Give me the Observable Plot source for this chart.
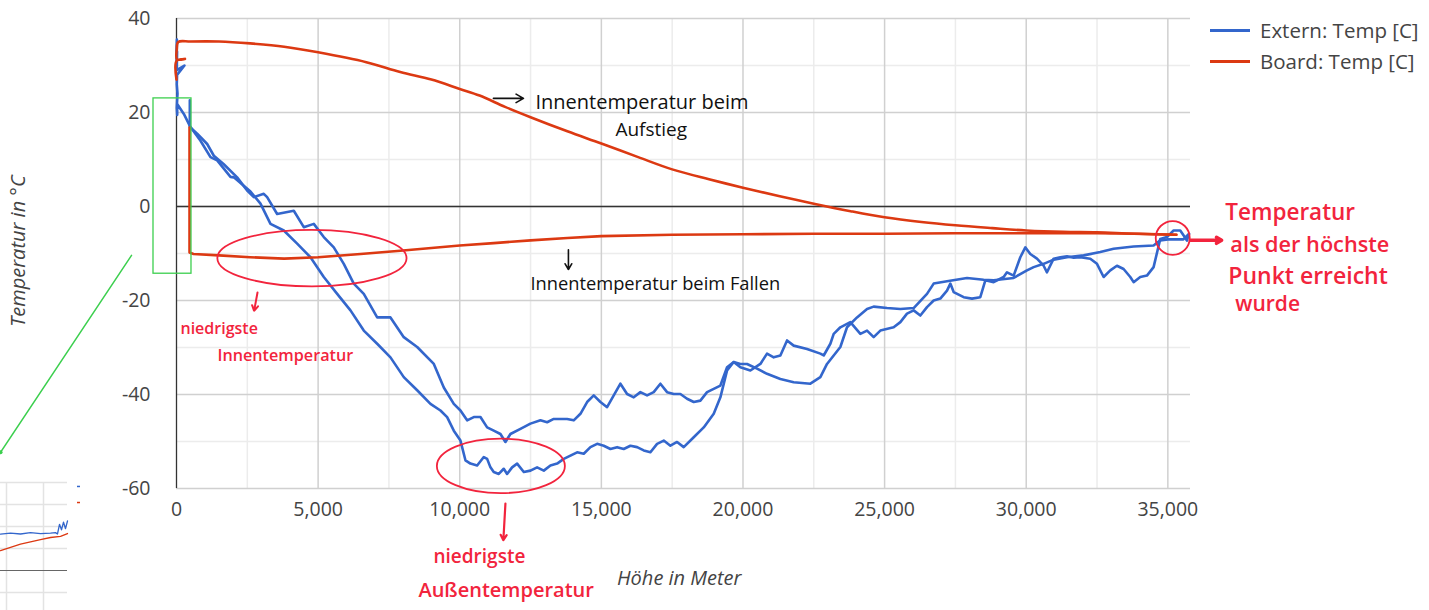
<!DOCTYPE html>
<html><head><meta charset="utf-8">
<script src="https://cdn.jsdelivr.net/npm/d3@7"></script>
<script src="https://cdn.jsdelivr.net/npm/@observablehq/plot@0.6"></script>
<style>
body{margin:0;background:#fff;font-family:"Open Sans",sans-serif;}
#wrap{position:relative;width:1429px;height:610px;overflow:hidden;background:#fff}
#wrap svg{position:absolute;left:0;top:0}
.leg{position:absolute;left:1210px;font-size:20.5px;line-height:28px;color:#444;display:flex;align-items:center;white-space:nowrap}
.leg span.sw{display:inline-block;width:40px;height:3px;margin-right:10px}
.ttl{position:absolute;font-size:20px;font-style:italic;color:#444;white-space:nowrap;line-height:26px}
</style></head><body><div id="wrap"></div>
<script>
// ---------- data ----------
const xTicks = [0,5000,10000,15000,20000,25000,30000,35000];
const xMinor = [2500,7500,12500,17500,22500,27500,32500];
const yTicks = [-60,-40,-20,0,20,40];
const yMinor = [-50,-30,-10,10,30];
const seriesNames = ["Extern: Temp [C]","Board: Temp [C]"];
const seriesColors = ["#3366cc","#dc3912"];

// Extern temperature, ascent (altitude m, temp C)
const externAscent = [
 [0,33],[15,35.5],[5,31],[20,33],[10,29],[280,30],[20,28],[10,26],[35,24],[10,21],[25,19.5],[24,21.8],
 [259,19.7],[494,16.9],[847,14],[1200,10.5],[1436,9.8],[1906,6.3],[2024,6.2],[2612,3.2],[2965,0.6],
 [3318,-3.7],[3788,-5.1],[4260,-7.9],[4730,-10.8],[5200,-15],[5673,-18.6],[6142,-22.1],[6612,-26.4],
 [7085,-29.2],[7554,-32.1],[8024,-36.3],[8497,-39.1],[8966,-42],[9319,-43.4],[9555,-44.8],[9790,-47.7],
 [10025,-49.8],[10201,-54],[10378,-54.7],[10614,-55.1],[10849,-53.3],[10967,-53.7],[11084,-55.5],
 [11200,-56.5],[11378,-56.9],[11554,-55.8],[11672,-56.9],[11849,-55.5],[12026,-54.7],[12261,-56.5],
 [12496,-56.2],[12731,-55.5],[12967,-56.2],[13202,-55.1],[13438,-54.7],[13673,-53.7],[13908,-53],
 [14144,-52.3],[14378,-52.6],[14614,-51.2],[14850,-50.5],[15085,-50.9],[15320,-51.6],[15556,-51.2],
 [15790,-51.6],[16026,-50.9],[16261,-51.2],[16496,-51.9],[16732,-52.3],[16967,-50.5],[17202,-49.8],
 [17438,-50.9],[17673,-50.1],[17908,-51.2],[18261,-49.1],[18614,-47],[18967,-44.1],[19202,-40.6],
 [19438,-34.9],[19673,-33.1],[19908,-34.2],[20261,-34.9],[20614,-33.5],[20849,-31.3],[21085,-32.1],
 [21320,-31.7],[21556,-28.5],[21790,-29.6],[22262,-30.3],[22732,-31.3],[22850,-31.7],[23085,-29.2],
 [23203,-27.1],[23438,-25.7],[23791,-24.6],[24144,-27.1],[24380,-26.4],[24614,-27.8],[24850,-26.4],
 [25320,-25.7],[25556,-24.6],[25791,-22.8],[26026,-22.1],[26262,-23.2],[26497,-21.4],[26732,-20],
 [26967,-19.6],[27203,-17.9],[27321,-16.4],[27438,-18.2],[27791,-19.3],[28085,-19.6],[28379,-19.3],
 [28556,-15.7],[28850,-16.1],[29203,-15],[29321,-14],[29556,-14.7],[29791,-10.8],[29968,-8.7],
 [30144,-10.1],[30380,-11.1],[30615,-12.6],[30733,-14],[30968,-11.1],[31203,-10.8],[31439,-10.6],
 [31674,-10.9],[31909,-10.8],[32262,-11.1],[32498,-12.2],[32733,-15],[32968,-13.6],[33203,-12.6],
 [33438,-13.3],[33674,-15],[33791,-16.1],[34026,-15],[34262,-14.7],[34497,-12.9],[34733,-6.9],
 [34968,-6.5],[35203,-5.1],[35438,-5.1],[35673,-7.2]
];
// Extern temperature, descent
const externDescent = [
 [35673,-7.2],[35750,-5.8],[35550,-7.0],[35000,-7.0],[34733,-7.2],[34497,-8.3],[33791,-8.5],[33085,-9],
 [32615,-9.7],[32027,-10.4],[31439,-10.8],[30968,-11.3],[30615,-12.2],[30262,-12.9],[30027,-13.6],
 [29556,-15.2],[28850,-15.7],[28497,-15.6],[27909,-15.2],[27203,-15.9],[26732,-16.4],[26497,-18.6],
 [26026,-21.6],[25556,-21.8],[25085,-21.6],[24614,-21.3],[24380,-21.8],[24026,-23.6],[23673,-25.7],
 [23438,-29.9],[22967,-33.5],[22732,-36.3],[22379,-37.7],[21790,-37.4],[21320,-36.7],[20849,-35.6],
 [20496,-34.5],[20143,-33.5],[19908,-33.5],[19673,-33.1],[19438,-34.2],[19202,-38.1],[18967,-38.8],
 [18732,-39.5],[18496,-41.3],[18261,-41.6],[18026,-40.9],[17790,-39.9],[17555,-39.9],[17320,-39.5],
 [17084,-37.7],[16848,-39.5],[16614,-40.2],[16378,-39.5],[16143,-40.6],[15908,-39.9],[15673,-37.7],
 [15437,-40.2],[15202,-42.7],[14967,-41.6],[14731,-40.2],[14497,-41.6],[14261,-44.1],[14025,-45.5],
 [13790,-45.2],[13320,-45.2],[13085,-45.9],[12849,-45.5],[12496,-46.2],[12143,-47.3],[11790,-48.4],
 [11613,-50.1],[11437,-48.4],[11200,-47.7],[10967,-47],[10731,-44.8],[10496,-44.8],[10261,-45.5],
 [10025,-43.4],[9790,-42],[9437,-38.5],[9085,-33.5],[8497,-29.9],[8024,-27.8],[7554,-23.6],[7085,-23.6],
 [6612,-18.6],[6259,-16.4],[5906,-12.2],[5553,-8.7],[5200,-6.5],[4847,-3.7],[4494,-4.4],[4141,-0.9],
 [3553,-1.6],[3200,2],[3082,2.7],[2730,2],[2494,3.4],[2141,6.2],[1670,9],[1318,10.8],[1083,13.3],
 [730,15.5],[470,16.9],[470,22.6]
];
// Board temperature, ascent
const boardAscent = [
 [0,27],[5,31],[300,31.4],[20,31.3],[10,33.5],[60,35],[500,35.1],[1500,35.1],[2600,34.7],[3800,34],
 [5000,32.8],[6700,30.7],[7900,28.6],[9000,27],[10000,25],[10700,23.6],[11600,21.2],[12500,19],
 [13800,16],[15000,13.4],[16300,10.5],[17500,7.9],[18800,5.8],[20000,4],[21300,2.2],[22500,0.6],
 [23800,-1],[25000,-2.3],[26300,-3.3],[27500,-4],[28800,-4.6],[30000,-5.1],[31300,-5.4],[32500,-5.5],
 [33800,-5.8],[35300,-6.0]
];
// Board temperature, descent
const boardDescent = [
 [35300,-6],[34000,-5.8],[32500,-5.7],[30000,-5.7],[27500,-5.7],[25000,-5.8],[22500,-5.8],[20000,-5.9],
 [17500,-6],[15000,-6.3],[13800,-6.7],[12500,-7.2],[11200,-7.8],[10000,-8.3],[8900,-8.9],[7900,-9.4],
 [6500,-10.1],[5000,-10.8],[3800,-11.1],[2600,-10.8],[1500,-10.4],[600,-10.1],[460,-9.8],[460,5],[460,16.8]
];

// handwritten annotations (altitude m, temp C)
const blackNotes = [
 {x:12672,y:22.1,text:"Innentemperatur beim",size:20},
 {x:15496,y:16.2,text:"Aufstieg",size:19},
 {x:12496,y:-16.6,text:"Innentemperatur beim Fallen",size:18.3}
];
const redNotes = [
 {x:141,y:-26,text:"niedrigste",size:16},
 {x:1447,y:-31.7,text:"Innentemperatur",size:16.2},
 {x:9072,y:-74.5,text:"niedrigste",size:19},
 {x:8542,y:-81.7,text:"Außentemperatur",size:20},
 {x:37028,y:-1.3,text:"Temperatur",size:22.5},
 {x:37205,y:-8.3,text:"als der höchste",size:21.7},
 {x:37134,y:-14.9,text:"Punkt erreicht",size:23},
 {x:37381,y:-20.9,text:"wurde",size:21}
];
const blackArrows = [
 {x1:11190,y1:23,x2:12250,y2:23},
 {x1:13837,y1:-9.2,x2:13837,y2:-13.4}
];
const redArrows = [
 {x1:2860,y1:-18.3,x2:2740,y2:-22.2,w:2},
 {x1:11613,y1:-63.2,x2:11540,y2:-71,w:2.2},
 {x1:35800,y1:-7.2,x2:36900,y2:-7.2,w:3.5}
];
const redEllipses = [
 {cx:4800,cy:-11.1,rx:3340,ry:6},
 {cx:11470,cy:-55.3,rx:2260,ry:5.8},
 {cx:35190,cy:-6.8,rx:600,ry:3.6}
];
const greenBox = [{x1:-812,x2:529,y1:23,y2:-14.3}];
const greenLine = [[-1588,-10.4],[-6212,-52.3]];

// inset fragment (bottom-left screenshot piece)
const insetBlue = [[0,2.65],[10,2.7],[20,2.66],[30,2.72],[40,2.68],[50,2.7],[55,2.72],[57,2.66],[59,3.1],[61,2.85],[63,3.2],[65,2.9],[67,3.25]];
const insetRed = [[0,1.9],[10,2.05],[20,2.2],[30,2.3],[40,2.4],[50,2.5],[60,2.55],[67,2.68]];
const insetGridX = [6,43];
const insetGridY = [0,2,3,4,5];

// ---------- chart ----------
const wrap = document.getElementById("wrap");
const plot = Plot.plot({
  width:1429, height:610,
  marginLeft:176, marginRight:239, marginTop:18, marginBottom:122,
  style:{fontFamily:"'Open Sans', sans-serif", fontSize:"19.5px", color:"#444", background:"transparent", overflow:"visible"},
  x:{domain:[0,35800], ticks:xTicks, tickFormat:d=>d3.format(",")(d), tickSize:0, tickPadding:14, label:null},
  y:{domain:[-60,40], ticks:yTicks, tickFormat:d=>String(d), tickSize:0, tickPadding:26, label:null},
  marks:[
    Plot.ruleX(xMinor,{stroke:"#ececec",strokeWidth:1.5}),
    Plot.ruleY(yMinor,{stroke:"#ececec",strokeWidth:1.5}),
    Plot.ruleX(xTicks.slice(1),{stroke:"#d0d0d0",strokeWidth:1.5}),
    Plot.ruleY(yTicks,{stroke:"#d0d0d0",strokeWidth:1.5}),
    Plot.ruleY([0],{stroke:"#333",strokeWidth:1.3}),
    Plot.ruleX([0],{stroke:"#333",strokeWidth:1.3}),
    Plot.line(externAscent,{x:d=>d[0],y:d=>d[1],stroke:seriesColors[0],strokeWidth:2.6}),
    Plot.line(externDescent,{x:d=>d[0],y:d=>d[1],stroke:seriesColors[0],strokeWidth:2.6}),
    Plot.line(boardAscent,{x:d=>d[0],y:d=>d[1],stroke:seriesColors[1],strokeWidth:2.6,curve:"catmull-rom"}),
    Plot.line(boardDescent,{x:d=>d[0],y:d=>d[1],stroke:seriesColors[1],strokeWidth:2.6}),
    Plot.rect(greenBox,{x1:"x1",x2:"x2",y1:"y1",y2:"y2",fill:"none",stroke:"#3ccf4e",strokeWidth:1.3,clip:false}),
    Plot.line(greenLine,{x:d=>d[0],y:d=>d[1],stroke:"#3ccf4e",strokeWidth:1.5,clip:false}),
    Plot.dot([greenLine[1]],{x:d=>d[0],y:d=>d[1],r:2,fill:"#3ccf4e",clip:false}),
    Plot.arrow(blackArrows,{x1:"x1",y1:"y1",x2:"x2",y2:"y2",stroke:"#111",strokeWidth:1.6,headLength:8,clip:false}),
    Plot.arrow(redArrows,{x1:"x1",y1:"y1",x2:"x2",y2:"y2",stroke:"#f2243d",strokeWidth:d=>d.w,headLength:9,clip:false}),
    Plot.text(blackNotes,{x:"x",y:"y",text:"text",fontSize:"size",textAnchor:"start",fill:"#111",fontWeight:500,clip:false}),
    Plot.text(redNotes,{x:"x",y:"y",text:"text",fontSize:"size",textAnchor:"start",fill:"#f2243d",fontWeight:600,clip:false})
  ]
});
wrap.appendChild(plot);

// ellipses drawn using the chart's own scales
const sx = plot.scale("x"), sy = plot.scale("y");
const svg = d3.select(plot);
for (const e of redEllipses) {
  const cx = sx.apply(e.cx), cy = sy.apply(e.cy);
  svg.append("ellipse")
    .attr("cx",cx).attr("cy",cy)
    .attr("rx",Math.abs(sx.apply(e.cx+e.rx)-cx))
    .attr("ry",Math.abs(sy.apply(e.cy+e.ry)-cy))
    .attr("fill","none").attr("stroke","#f2243d").attr("stroke-width",1.8);
}

// legend
seriesNames.forEach((n,i)=>{
  const d=document.createElement("div");
  d.className="leg"; d.style.top=(16+i*31)+"px";
  d.innerHTML=`<span class="sw" style="background:${seriesColors[i]}"></span>${n}`;
  wrap.appendChild(d);
});
// axis titles
const xt=document.createElement("div"); xt.className="ttl"; xt.textContent="Höhe in Meter";
xt.style.left="617px"; xt.style.top="565px"; wrap.appendChild(xt);
const yt=document.createElement("div"); yt.className="ttl"; yt.textContent="Temperatur in °C";
yt.style.left="18px"; yt.style.top="251px"; yt.style.transform="translate(-50%,-50%) rotate(-90deg)";
wrap.appendChild(yt);

// inset fragment
const inset = Plot.plot({
  width:80, height:128, margin:0,
  style:{background:"transparent",overflow:"visible"},
  x:{domain:[0,80],axis:null},
  y:{domain:[-0.818,5],axis:null},
  marks:[
    Plot.ruleX(insetGridX,{stroke:"#e3e3e3",strokeWidth:1.5}),
    Plot.ruleY(insetGridY,{x1:0,x2:67,stroke:"#e3e3e3",strokeWidth:1.5}),
    Plot.ruleY([1],{x1:0,x2:67,stroke:"#666",strokeWidth:1}),
    Plot.line(insetBlue,{x:d=>d[0],y:d=>d[1],stroke:seriesColors[0],strokeWidth:1.3}),
    Plot.line(insetRed,{x:d=>d[0],y:d=>d[1],stroke:seriesColors[1],strokeWidth:1.3}),
    Plot.ruleY([4.82],{x1:77,x2:80,stroke:seriesColors[0],strokeWidth:1.5}),
    Plot.ruleY([4.09],{x1:77,x2:80,stroke:seriesColors[1],strokeWidth:1.5})
  ]
});
inset.style.left="0px"; inset.style.top="482px";
wrap.appendChild(inset);
</script></body></html>
